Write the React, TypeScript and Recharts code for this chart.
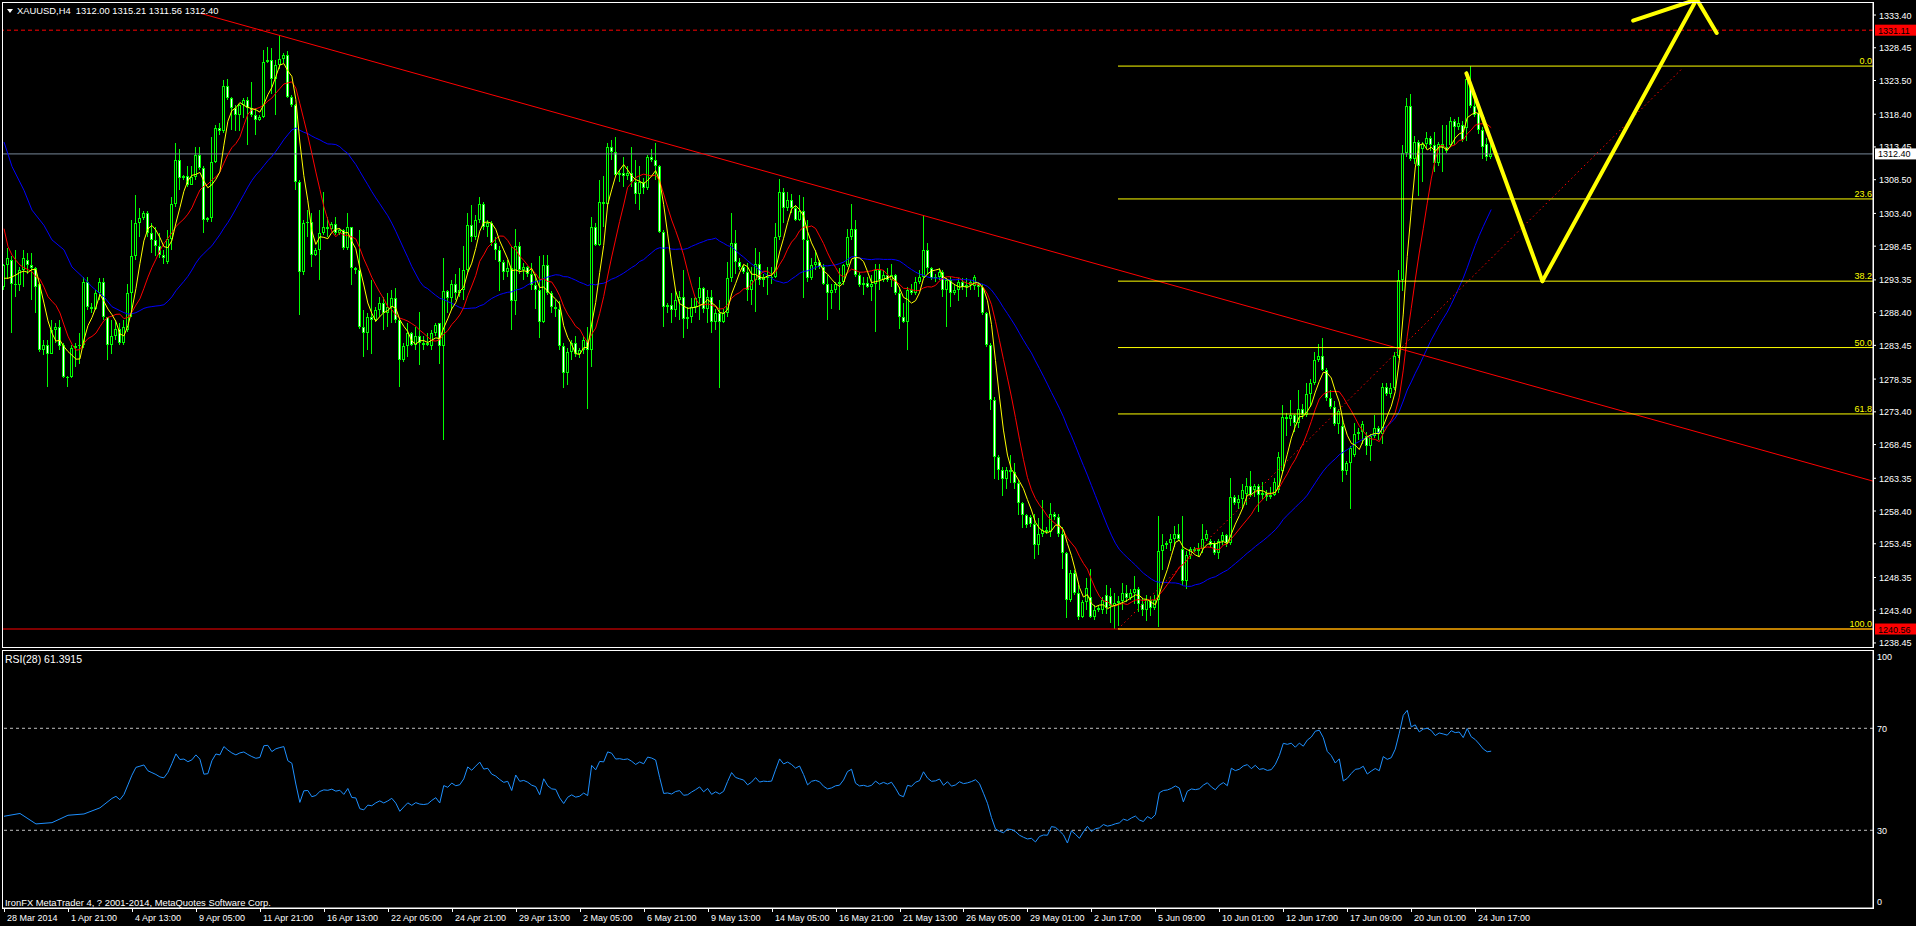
import React from 'react';
import { ComposedChart, Bar, Line, XAxis, YAxis, ReferenceLine } from 'recharts';

const FONT = "'Liberation Sans', Arial, sans-serif";

const symbolTitle = 'XAUUSD,H4  1312.00 1315.21 1311.56 1312.40';
const rsiTitle = 'RSI(28) 61.3915';
const copyrightText = 'IronFX MetaTrader 4, ? 2001-2014, MetaQuotes Software Corp.';

const opens = [
  1292.3, 1295.6, 1296.4, 1292.8, 1292.6, 1294.8, 1296.4, 1295.6, 1295.1, 1292.8,
  1282.7, 1283.5, 1282.2, 1285.8, 1286.3, 1283.5, 1278.7, 1278.7, 1283.0, 1283.3,
  1283.5, 1293.1, 1289.3, 1289.0, 1291.3, 1293.1, 1287.8, 1283.5, 1284.8, 1286.0,
  1283.8, 1285.8, 1291.3, 1296.9, 1301.9, 1302.7, 1303.5, 1300.4, 1299.4, 1298.4,
  1297.1, 1296.1, 1299.6, 1304.9, 1311.5, 1308.7, 1309.0, 1307.7, 1308.9, 1312.2,
  1310.2, 1302.4, 1302.7, 1311.2, 1316.3, 1315.8, 1322.6, 1320.8, 1319.3, 1318.3,
  1319.8, 1320.5, 1319.3, 1318.3, 1317.5, 1318.0, 1326.3, 1326.6, 1323.8, 1325.8,
  1326.7, 1327.4, 1321.0, 1319.8, 1308.2, 1294.6, 1301.9, 1302.1, 1297.1, 1297.9,
  1300.4, 1301.4, 1301.1, 1301.8, 1300.4, 1300.9, 1298.1, 1301.4, 1295.1, 1294.8,
  1286.3, 1285.3, 1287.8, 1287.3, 1288.8, 1289.8, 1288.3, 1289.3, 1290.6, 1287.3,
  1281.2, 1283.3, 1285.3, 1283.5, 1284.8, 1283.8, 1283.5, 1283.3, 1285.3, 1286.8,
  1283.3, 1291.6, 1290.6, 1292.8, 1291.3, 1291.8, 1294.8, 1301.6, 1299.9, 1302.4,
  1304.9, 1301.4, 1301.9, 1298.9, 1297.9, 1296.1, 1294.6, 1295.1, 1290.1, 1298.4,
  1294.8, 1295.3, 1294.3, 1292.6, 1291.8, 1287.0, 1295.6, 1291.3, 1289.3, 1289.0,
  1283.3, 1279.2, 1282.5, 1283.8, 1282.2, 1282.7, 1284.3, 1282.7, 1301.4, 1298.6,
  1305.2, 1304.9, 1313.5, 1312.7, 1309.2, 1309.5, 1309.0, 1309.5, 1308.2, 1306.4,
  1308.2, 1307.2, 1312.0, 1311.5, 1310.5, 1300.6, 1289.3, 1289.6, 1288.8, 1290.3,
  1290.8, 1287.5, 1287.8, 1289.3, 1290.6, 1292.1, 1289.0, 1290.8, 1287.0, 1288.3,
  1287.0, 1288.3, 1293.6, 1298.9, 1296.1, 1295.3, 1294.6, 1291.8, 1293.3, 1295.8,
  1293.3, 1293.8, 1293.6, 1293.8, 1299.9, 1306.7, 1304.2, 1305.4, 1304.2, 1302.4,
  1303.7, 1299.4, 1293.6, 1295.6, 1296.1, 1295.3, 1292.8, 1291.3, 1291.8, 1292.8,
  1293.1, 1295.6, 1299.9, 1301.1, 1294.1, 1292.6, 1292.9, 1292.3, 1292.8, 1294.8,
  1293.3, 1294.1, 1293.3, 1294.1, 1291.3, 1287.8, 1287.0, 1291.8, 1291.3, 1293.1,
  1293.8, 1297.9, 1295.1, 1293.6, 1293.8, 1294.6, 1291.8, 1293.3, 1291.3, 1291.8,
  1293.1, 1292.3, 1292.6, 1292.4, 1292.8, 1292.3, 1288.3, 1283.5, 1275.2, 1266.6,
  1264.6, 1263.3, 1264.6, 1264.3, 1262.6, 1259.6, 1257.8, 1257.5, 1256.5, 1253.3,
  1255.0, 1255.5, 1255.3, 1258.0, 1257.5, 1255.0, 1252.0, 1244.9, 1249.0, 1246.0,
  1242.4, 1244.7, 1245.4, 1242.4, 1243.4, 1243.4, 1245.7, 1245.5, 1244.0, 1244.5,
  1244.8, 1246.0, 1245.2, 1246.0, 1246.6, 1244.3, 1243.4, 1244.9, 1243.7, 1244.9,
  1252.4, 1253.3, 1253.5, 1254.1, 1255.0, 1252.7, 1247.8, 1251.8, 1252.7, 1252.4,
  1252.7, 1254.1, 1253.8, 1253.5, 1252.1, 1253.8, 1254.7, 1253.5, 1260.5, 1259.6,
  1260.2, 1261.0, 1262.2, 1261.6, 1262.2, 1260.8, 1261.1, 1260.5, 1260.8, 1261.6,
  1264.5, 1272.6, 1272.3, 1272.9, 1271.7, 1273.8, 1272.9, 1276.1, 1277.8, 1281.3,
  1281.9, 1279.8, 1275.5, 1274.1, 1271.5, 1271.2, 1264.5, 1265.7, 1266.8, 1270.0,
  1270.3, 1269.7, 1268.3, 1269.7, 1270.9, 1270.0, 1277.2, 1276.1, 1277.0, 1281.9,
  1293.4, 1312.5, 1319.7, 1311.6, 1314.2, 1313.1, 1313.9, 1314.8, 1313.7, 1311.1,
  1313.9, 1313.4, 1313.7, 1317.4, 1316.5, 1316.8, 1316.3, 1322.9, 1319.7, 1318.6,
  1316.0, 1313.9, 1312.00,
];

const highs = [
  1295.8, 1298.1, 1296.9, 1297.9, 1295.3, 1297.9, 1297.4, 1297.4, 1295.3, 1292.9,
  1284.3, 1284.3, 1287.3, 1286.8, 1287.3, 1283.8, 1278.8, 1283.5, 1283.8, 1285.3,
  1293.8, 1293.8, 1289.8, 1291.8, 1293.6, 1293.6, 1287.8, 1287.3, 1287.3, 1286.8,
  1287.3, 1292.8, 1302.4, 1306.2, 1304.2, 1303.7, 1303.7, 1301.9, 1301.4, 1300.4,
  1297.9, 1300.9, 1305.9, 1314.0, 1313.2, 1309.2, 1310.5, 1310.5, 1313.5, 1313.5,
  1310.5, 1302.9, 1315.0, 1316.8, 1317.0, 1323.6, 1323.8, 1321.0, 1319.8, 1320.0,
  1320.8, 1321.0, 1323.3, 1319.3, 1318.3, 1328.1, 1328.6, 1328.4, 1326.6, 1330.4,
  1327.6, 1327.9, 1321.3, 1320.0, 1308.4, 1302.4, 1303.9, 1303.4, 1298.1, 1303.9,
  1306.7, 1302.9, 1302.1, 1302.9, 1301.1, 1301.1, 1303.4, 1301.4, 1295.3, 1300.9,
  1288.8, 1288.3, 1293.3, 1289.3, 1290.8, 1290.8, 1291.3, 1291.8, 1292.1, 1287.5,
  1283.8, 1286.8, 1285.5, 1286.3, 1288.5, 1284.8, 1285.3, 1285.8, 1286.8, 1286.9,
  1296.6, 1291.8, 1293.3, 1294.3, 1295.1, 1298.4, 1303.4, 1304.7, 1303.2, 1305.9,
  1305.2, 1302.4, 1302.2, 1299.9, 1298.4, 1296.4, 1296.4, 1298.4, 1301.1, 1299.1,
  1295.9, 1295.5, 1295.9, 1294.3, 1296.9, 1297.1, 1297.1, 1291.6, 1290.3, 1290.1,
  1283.8, 1283.0, 1284.3, 1284.8, 1283.0, 1284.8, 1286.3, 1302.9, 1301.9, 1308.5,
  1309.0, 1314.0, 1314.5, 1315.0, 1310.0, 1312.0, 1310.5, 1313.5, 1311.5, 1310.5,
  1308.7, 1312.2, 1313.2, 1314.0, 1310.7, 1300.9, 1289.8, 1291.3, 1291.8, 1291.6,
  1294.8, 1289.3, 1290.6, 1290.8, 1293.8, 1292.3, 1291.8, 1291.8, 1289.0, 1290.3,
  1289.0, 1296.1, 1303.4, 1300.9, 1296.6, 1295.6, 1295.9, 1295.3, 1298.1, 1297.6,
  1294.3, 1295.3, 1295.3, 1301.9, 1308.6, 1307.2, 1306.7, 1306.4, 1304.7, 1306.2,
  1305.9, 1302.4, 1296.6, 1297.9, 1296.3, 1295.8, 1294.1, 1292.8, 1293.1, 1295.1,
  1295.8, 1301.1, 1304.9, 1302.4, 1294.6, 1293.8, 1293.8, 1294.1, 1295.8, 1295.8,
  1294.8, 1295.1, 1295.8, 1294.3, 1292.3, 1289.8, 1292.3, 1292.8, 1293.8, 1294.8,
  1303.2, 1298.9, 1295.3, 1294.3, 1295.1, 1294.8, 1293.6, 1293.8, 1292.8, 1293.6,
  1293.6, 1293.6, 1293.3, 1294.1, 1293.1, 1292.8, 1288.5, 1283.8, 1275.7, 1266.9,
  1265.1, 1265.1, 1266.9, 1265.6, 1263.1, 1259.8, 1258.0, 1257.8, 1258.0, 1257.3,
  1260.1, 1256.0, 1259.6, 1258.3, 1258.0, 1256.0, 1252.2, 1249.5, 1249.5, 1247.2,
  1244.9, 1248.2, 1249.7, 1244.2, 1244.0, 1245.4, 1247.2, 1246.8, 1246.0, 1245.5,
  1247.5, 1247.2, 1246.6, 1248.6, 1246.9, 1245.2, 1245.7, 1245.5, 1245.7, 1257.6,
  1255.0, 1253.8, 1255.0, 1256.1, 1256.4, 1257.6, 1252.4, 1253.0, 1252.9, 1253.5,
  1256.4, 1255.6, 1254.1, 1253.8, 1254.1, 1255.3, 1255.0, 1263.4, 1260.8, 1260.8,
  1262.5, 1263.4, 1264.5, 1262.5, 1262.5, 1262.8, 1261.6, 1262.0, 1263.4, 1267.4,
  1274.4, 1273.2, 1275.2, 1273.0, 1276.7, 1274.6, 1277.8, 1278.4, 1282.4, 1283.6,
  1284.5, 1280.0, 1276.7, 1275.0, 1273.8, 1272.6, 1266.0, 1268.3, 1271.7, 1270.9,
  1272.0, 1270.3, 1270.0, 1272.9, 1271.2, 1277.8, 1277.8, 1277.8, 1282.4, 1294.9,
  1313.7, 1320.9, 1321.5, 1315.1, 1314.5, 1314.2, 1315.7, 1315.1, 1315.7, 1314.2,
  1316.8, 1316.8, 1318.0, 1317.7, 1318.0, 1317.4, 1324.9, 1325.68, 1320.6, 1319.7,
  1316.5, 1314.8, 1315.21,
];

const lows = [
  1291.8, 1293.5, 1285.3, 1290.8, 1291.6, 1292.3, 1294.3, 1290.3, 1288.3, 1282.5,
  1282.0, 1277.2, 1282.2, 1283.8, 1282.7, 1278.5, 1277.2, 1278.5, 1280.2, 1280.7,
  1283.0, 1288.8, 1288.3, 1288.8, 1290.3, 1287.3, 1281.2, 1282.2, 1284.3, 1283.5,
  1283.5, 1285.5, 1287.8, 1296.4, 1299.9, 1302.4, 1299.9, 1297.4, 1296.9, 1296.6,
  1295.8, 1295.8, 1297.9, 1304.4, 1306.9, 1308.4, 1307.4, 1307.7, 1308.4, 1310.0,
  1300.4, 1302.1, 1302.1, 1311.0, 1315.3, 1315.5, 1320.5, 1316.0, 1315.8, 1315.8,
  1317.8, 1313.7, 1318.0, 1315.3, 1317.4, 1317.8, 1326.1, 1321.5, 1318.3, 1325.3,
  1326.1, 1320.8, 1319.5, 1306.9, 1288.0, 1294.1, 1299.9, 1295.3, 1296.9, 1293.3,
  1300.1, 1299.9, 1300.9, 1300.1, 1300.1, 1297.9, 1297.9, 1292.6, 1294.3, 1286.0,
  1281.7, 1282.7, 1282.2, 1287.0, 1287.8, 1285.8, 1286.3, 1286.8, 1286.8, 1277.2,
  1281.0, 1281.7, 1283.3, 1282.7, 1280.5, 1282.7, 1283.3, 1282.7, 1284.8, 1280.7,
  1269.1, 1288.3, 1288.8, 1290.3, 1290.8, 1290.3, 1294.3, 1299.1, 1299.4, 1301.9,
  1300.9, 1299.9, 1298.4, 1296.4, 1291.6, 1293.3, 1293.8, 1285.8, 1288.0, 1294.3,
  1293.3, 1293.8, 1291.8, 1289.0, 1284.5, 1286.8, 1291.1, 1288.3, 1287.8, 1282.7,
  1277.0, 1277.5, 1281.2, 1281.7, 1281.5, 1282.2, 1273.9, 1280.2, 1298.4, 1298.4,
  1301.4, 1304.7, 1311.5, 1309.0, 1308.2, 1307.4, 1308.5, 1307.4, 1304.9, 1303.9,
  1306.4, 1306.9, 1311.2, 1308.5, 1300.4, 1286.3, 1288.3, 1286.8, 1287.8, 1287.3,
  1284.5, 1286.0, 1286.8, 1288.3, 1287.3, 1288.3, 1286.8, 1285.3, 1285.8, 1277.0,
  1286.8, 1287.8, 1293.1, 1294.3, 1294.8, 1294.3, 1290.1, 1289.5, 1288.5, 1292.6,
  1292.3, 1291.1, 1292.8, 1293.6, 1299.4, 1301.9, 1303.7, 1303.4, 1302.2, 1302.2,
  1290.6, 1293.1, 1293.3, 1294.8, 1295.0, 1292.6, 1287.3, 1289.0, 1291.3, 1288.8,
  1292.6, 1295.3, 1299.4, 1293.8, 1292.3, 1291.1, 1292.1, 1290.1, 1285.5, 1291.8,
  1293.1, 1293.1, 1292.3, 1291.1, 1286.0, 1286.8, 1282.7, 1291.1, 1291.1, 1292.8,
  1293.6, 1294.3, 1293.3, 1293.1, 1293.3, 1290.8, 1286.3, 1289.3, 1291.1, 1290.1,
  1291.8, 1290.8, 1291.8, 1291.8, 1290.8, 1288.0, 1283.2, 1273.7, 1263.3, 1263.1,
  1260.6, 1261.8, 1262.6, 1261.8, 1257.8, 1255.8, 1255.8, 1256.0, 1251.2, 1251.7,
  1254.5, 1255.0, 1254.5, 1257.0, 1254.5, 1249.7, 1242.2, 1244.7, 1245.7, 1241.9,
  1242.2, 1243.4, 1242.2, 1241.9, 1243.2, 1242.9, 1242.9, 1241.5, 1240.56, 1241.0,
  1243.4, 1244.6, 1244.9, 1244.3, 1243.1, 1242.6, 1241.7, 1242.6, 1243.4, 1240.8,
  1249.5, 1252.7, 1252.4, 1253.0, 1253.8, 1247.2, 1246.6, 1251.2, 1252.2, 1251.5,
  1252.1, 1253.8, 1253.0, 1251.8, 1251.2, 1253.3, 1253.0, 1253.3, 1259.3, 1258.7,
  1258.7, 1259.3, 1260.5, 1260.5, 1258.2, 1260.2, 1259.9, 1260.2, 1260.6, 1261.1,
  1264.2, 1269.7, 1271.2, 1270.3, 1270.9, 1272.3, 1272.6, 1274.1, 1277.5, 1281.0,
  1279.6, 1275.0, 1273.8, 1271.2, 1270.0, 1262.8, 1263.9, 1258.7, 1266.5, 1269.1,
  1268.6, 1266.8, 1266.0, 1269.4, 1269.1, 1268.6, 1275.8, 1275.5, 1276.7, 1281.6,
  1291.7, 1311.9, 1311.3, 1310.8, 1306.1, 1308.2, 1313.1, 1312.8, 1309.6, 1310.5,
  1309.6, 1312.5, 1313.4, 1313.7, 1316.0, 1314.2, 1314.4, 1319.4, 1318.0, 1315.4,
  1311.6, 1311.3, 1311.56,
];

const closes = [
  1295.6, 1296.6, 1292.8, 1292.6, 1294.8, 1296.6, 1295.6, 1295.1, 1292.3, 1282.7,
  1283.5, 1282.2, 1285.8, 1286.3, 1283.3, 1278.7, 1278.5, 1283.0, 1283.3, 1283.5,
  1293.1, 1289.3, 1289.0, 1291.3, 1293.1, 1287.8, 1283.5, 1284.8, 1286.0, 1283.8,
  1286.3, 1291.3, 1296.9, 1301.9, 1302.7, 1303.5, 1300.4, 1299.4, 1298.4, 1297.1,
  1296.6, 1299.6, 1304.9, 1311.5, 1308.7, 1309.0, 1307.7, 1308.9, 1312.2, 1310.2,
  1302.4, 1302.7, 1311.2, 1316.3, 1315.8, 1322.6, 1320.8, 1319.3, 1318.3, 1319.8,
  1320.5, 1319.3, 1318.3, 1317.5, 1318.0, 1326.3, 1326.6, 1323.8, 1325.8, 1326.7,
  1327.4, 1321.0, 1319.8, 1308.2, 1294.6, 1301.9, 1302.1, 1297.1, 1297.9, 1300.4,
  1301.4, 1301.1, 1301.8, 1300.4, 1300.9, 1298.1, 1301.4, 1295.1, 1294.8, 1286.3,
  1285.3, 1287.8, 1287.3, 1288.8, 1289.8, 1288.3, 1289.3, 1290.6, 1287.3, 1281.2,
  1283.3, 1285.3, 1283.5, 1284.8, 1283.8, 1283.5, 1283.8, 1285.3, 1286.5, 1283.3,
  1291.6, 1290.6, 1292.8, 1291.3, 1291.8, 1294.8, 1301.6, 1299.9, 1302.4, 1304.9,
  1301.4, 1301.9, 1298.9, 1297.9, 1296.1, 1294.6, 1295.1, 1290.1, 1298.4, 1294.8,
  1295.3, 1294.3, 1292.6, 1291.8, 1287.0, 1295.6, 1291.3, 1289.3, 1289.0, 1283.3,
  1279.2, 1282.5, 1283.8, 1282.2, 1282.7, 1284.3, 1282.7, 1301.4, 1298.6, 1305.2,
  1304.9, 1313.5, 1312.7, 1309.2, 1309.5, 1309.0, 1309.5, 1308.2, 1306.4, 1308.2,
  1307.2, 1312.0, 1311.5, 1310.5, 1300.6, 1289.3, 1289.6, 1288.8, 1290.3, 1290.8,
  1287.5, 1287.8, 1289.3, 1290.6, 1292.1, 1289.0, 1290.8, 1287.0, 1288.3, 1287.0,
  1288.3, 1293.6, 1298.9, 1296.1, 1295.3, 1294.6, 1291.8, 1293.3, 1295.8, 1293.3,
  1293.8, 1293.6, 1293.8, 1299.9, 1306.7, 1304.2, 1305.4, 1304.2, 1302.4, 1303.7,
  1299.4, 1293.6, 1295.6, 1296.1, 1295.3, 1292.8, 1291.3, 1291.8, 1292.8, 1293.1,
  1295.6, 1299.9, 1301.1, 1294.1, 1292.6, 1292.9, 1292.3, 1292.8, 1294.8, 1293.3,
  1294.1, 1293.3, 1294.1, 1291.3, 1287.8, 1287.0, 1291.8, 1291.3, 1293.1, 1293.8,
  1297.9, 1295.1, 1293.6, 1293.8, 1294.6, 1291.8, 1293.3, 1291.3, 1291.8, 1293.1,
  1292.3, 1292.6, 1293.1, 1293.8, 1292.3, 1288.3, 1283.5, 1275.2, 1266.6, 1264.6,
  1263.3, 1264.6, 1264.3, 1262.6, 1259.6, 1257.8, 1256.3, 1256.5, 1253.3, 1255.0,
  1255.5, 1255.3, 1258.0, 1257.5, 1255.0, 1252.0, 1244.9, 1249.0, 1246.0, 1242.4,
  1244.7, 1246.7, 1242.4, 1243.4, 1243.7, 1244.9, 1243.7, 1244.0, 1244.5, 1244.8,
  1246.0, 1245.2, 1246.0, 1246.6, 1244.3, 1243.4, 1244.9, 1243.7, 1244.9, 1252.4,
  1253.3, 1253.5, 1254.1, 1255.0, 1254.1, 1247.8, 1251.8, 1252.7, 1252.4, 1252.7,
  1254.1, 1255.0, 1253.3, 1252.1, 1253.8, 1254.7, 1253.5, 1260.5, 1259.6, 1260.2,
  1261.6, 1262.2, 1260.8, 1262.2, 1260.8, 1261.1, 1260.5, 1260.8, 1262.8, 1266.5,
  1272.6, 1272.3, 1272.9, 1271.7, 1273.8, 1272.9, 1276.1, 1277.8, 1281.3, 1281.9,
  1279.8, 1275.5, 1274.1, 1271.5, 1273.5, 1264.5, 1265.7, 1268.0, 1270.0, 1270.3,
  1271.5, 1268.3, 1269.7, 1270.9, 1270.0, 1277.2, 1276.1, 1277.0, 1281.9, 1293.4,
  1312.5, 1319.7, 1311.6, 1314.2, 1310.5, 1313.9, 1314.8, 1313.7, 1311.1, 1313.9,
  1313.4, 1312.8, 1317.4, 1316.5, 1317.1, 1314.5, 1323.8, 1319.7, 1318.3, 1316.0,
  1313.4, 1311.9, 1312.40,
];

// moving-average / RSI values for the first bars (before enough history exists)
const fastLead = [1293.6, 1293.6, 1293.8, 1294.1];
const midLead = [1301.1, 1298.4, 1297.1, 1296.3, 1295.6, 1295.2, 1294.9, 1294.6, 1293.8];
const slowLeadBars = [0, 2, 5, 7, 10, 12, 15, 17, 20, 22, 25, 27, 30];
const slowLeadValues = [1314.2, 1310.5, 1306.9, 1303.9, 1301.6, 1299.4, 1297.9, 1295.3, 1293.6, 1292.3, 1290.8, 1289.3, 1288.4];
const rsiLeadBars = [0, 4, 8, 12, 16, 20, 24, 27];
const rsiLeadValues = [35.5, 36.6, 32.5, 33.0, 35.9, 36.4, 38.8, 42.5];

const maPeriods = [5, 10, 32];
const rsiPeriod = 28;

const timeLabels = [
  '28 Mar 2014', '1 Apr 21:00', '4 Apr 13:00', '9 Apr 05:00', '11 Apr 21:00', '16 Apr 13:00',
  '22 Apr 05:00', '24 Apr 21:00', '29 Apr 13:00', '2 May 05:00', '6 May 21:00', '9 May 13:00',
  '14 May 05:00', '16 May 21:00', '21 May 13:00', '26 May 05:00', '29 May 01:00', '2 Jun 17:00',
  '5 Jun 09:00', '10 Jun 01:00', '12 Jun 17:00', '17 Jun 09:00', '20 Jun 01:00', '24 Jun 17:00',
];
const labelEvery = 16;

const priceTicks = [
  1333.40, 1328.45, 1323.50, 1318.40, 1313.45, 1308.50, 1303.40, 1298.45, 1293.35, 1288.40,
  1283.45, 1278.35, 1273.40, 1268.45, 1263.35, 1258.40, 1253.45, 1248.35, 1243.40, 1238.45,
];
const priceDomain = [1237.84, 1335.37];
const rsiTicks = [0, 30, 70, 100];
const rsiLevels = [70, 30];
const rsiDomain = [-0.47, 100.7];

const fibLabels = ['0.0', '23.6', '38.2', '50.0', '61.8', '100.0'];
const fibValues = [1325.68, 1305.59, 1293.16, 1283.12, 1273.08, 1240.56];
const fibStartBar = 278.65;

const resistanceLevel = 1331.11;
const bidLevel = 1312.40;
const supportLevel = 1240.56;

const trendBars = [49.15, 467.5];
const trendPrices = [1333.66, 1262.92];
const dottedBars = [278.65, 419.65];
const dottedPrices = [1240.56, 1325.24];
const projBars = [365.8, 384.8, 423.4];
const projPrices = [1324.58, 1293.16, 1335.8];
const arrowLeftBars = [407.5, 422.6];
const arrowLeftPrices = [1332.54, 1335.6];
const arrowRightBars = [423.4, 428.4];
const arrowRightPrices = [1335.8, 1330.68];

const SLOTS = 468;
const X_DOMAIN = [-0.5, SLOTS - 0.5];

const N = Math.min(opens.length, highs.length, lows.length, closes.length);

function sma(period: number, i: number): number | null {
  if (i < period - 1 || i >= N) return null;
  let s = 0;
  for (let k = i - period + 1; k <= i; k++) s += closes[k];
  return s / period;
}

function rsiSeries(): (number | null)[] {
  const out: (number | null)[] = new Array(N).fill(null);
  const n = rsiPeriod;
  let g = 0;
  let l = 0;
  for (let k = 1; k <= n; k++) {
    const d = closes[k] - closes[k - 1];
    if (d > 0) g += d; else l -= d;
  }
  g /= n;
  l /= n;
  out[n] = l === 0 ? 100 : 100 - 100 / (1 + g / l);
  for (let k = n + 1; k < N; k++) {
    const d = closes[k] - closes[k - 1];
    g = (g * (n - 1) + Math.max(d, 0)) / n;
    l = (l * (n - 1) + Math.max(-d, 0)) / n;
    out[k] = l === 0 ? 100 : 100 - 100 / (1 + g / l);
  }
  return out;
}

const rsiComputed = rsiSeries();

const rows = Array.from({ length: SLOTS }, (_, i) => {
  const has = i < N;
  let fast: number | null = null;
  let mid: number | null = null;
  let slow: number | null = null;
  let rsi: number | null = null;
  if (has) {
    fast = i < maPeriods[0] - 1 ? fastLead[i] : sma(maPeriods[0], i);
    mid = i < maPeriods[1] - 1 ? midLead[i] : sma(maPeriods[1], i);
    if (i < maPeriods[2] - 1) {
      const li = slowLeadBars.indexOf(i);
      slow = li >= 0 ? slowLeadValues[li] : null;
    } else slow = sma(maPeriods[2], i);
    if (i < rsiPeriod) {
      const ri = rsiLeadBars.indexOf(i);
      rsi = ri >= 0 ? rsiLeadValues[ri] : null;
    } else rsi = rsiComputed[i];
  }
  return {
    i,
    range: has ? [lows[i], highs[i]] : null,
    o: has ? opens[i] : null,
    h: has ? highs[i] : null,
    l: has ? lows[i] : null,
    c: has ? closes[i] : null,
    fast,
    mid,
    slow,
    rsi,
  };
});

const Candle = (props: any) => {
  const { x, y, width, height, payload } = props;
  if (!payload || payload.o == null || x == null || y == null) return null;
  const top = Math.min(y, y + height);
  const hgt = Math.abs(height);
  const hi = payload.h;
  const lo = payload.l;
  const span = hi - lo;
  const py = (v: number) => (span > 0 ? top + ((hi - v) / span) * hgt : top);
  const left = Math.round(x);
  const w = Math.max(1, Math.round(width));
  const cx = left + Math.floor(w / 2);
  const wt = Math.round(top);
  const wb = Math.max(Math.round(top + hgt), wt + 1);
  const bt = Math.round(py(Math.max(payload.o, payload.c)));
  const bb = Math.max(Math.round(py(Math.min(payload.o, payload.c))), bt + 1);
  const bull = payload.c >= payload.o;
  return (
    <g shapeRendering="crispEdges">
      <rect x={cx} y={wt} width={1} height={wb - wt} fill="#00ff00" />
      <rect x={left} y={bt} width={w} height={bb - bt} fill="#00ff00" />
      {bb - bt > 2 && w > 2 ? (
        <rect x={left + 1} y={bt + 1} width={w - 2} height={bb - bt - 2} fill={bull ? '#000000' : '#ffffff'} />
      ) : null}
    </g>
  );
};

const PriceTick = (props: any) => {
  const { x, y, payload } = props;
  return (
    <text x={x} y={y + 3.5} fill="#ffffff" fontSize={9} fontFamily={FONT} textAnchor="start">
      {Number(payload.value).toFixed(2)}
    </text>
  );
};

const RsiTick = (props: any) => {
  const { x, y, payload } = props;
  const v = payload.value;
  const dy = v === 100 ? 5 : v === 0 ? -5 : 0;
  return (
    <text x={x} y={y + dy + 3.5} fill="#ffffff" fontSize={9} fontFamily={FONT} textAnchor="start">
      {v}
    </text>
  );
};

const TimeTick = (props: any) => {
  const { x, y, payload } = props;
  const idx = Math.round(payload.value / labelEvery);
  const xx = Math.round(x) + 0.5;
  return (
    <g>
      <line x1={xx} x2={xx} y1={y} y2={y + 4} stroke="#ffffff" strokeWidth={1} />
      <text x={xx + 2.5} y={y + 12.5} fill="#ffffff" fontSize={9} fontFamily={FONT} textAnchor="start">
        {timeLabels[idx]}
      </text>
    </g>
  );
};

const makeTag = (bg: string, fg: string, value: number) => (props: any) => {
  const vb = props.viewBox || {};
  const x = (vb.x || 0) + (vb.width || 0) + 2;
  const y = vb.y || 0;
  return (
    <g>
      <rect x={x} y={y - 5.5} width={41} height={11} fill={bg} />
      <text x={x + 3} y={y + 3.5} fill={fg} fontSize={9} fontFamily={FONT}>
        {value.toFixed(2)}
      </text>
    </g>
  );
};

const makeFibLabel = (text: string) => (props: any) => {
  const vb = props.viewBox || {};
  const x = (vb.x || 0) + (vb.width || 0) - 1;
  const y = vb.y || 0;
  return (
    <text x={x} y={y - 2} fill="#ffff00" fontSize={9} fontFamily={FONT} textAnchor="end">
      {text}
    </text>
  );
};

const timeTickIdx = timeLabels.map((_, k) => k * labelEvery);

export default function App() {
  return (
    <div style={{ position: 'absolute', left: 0, top: 0, width: 1916, height: 926, background: '#000', overflow: 'hidden', fontFamily: FONT }}>
      <div style={{ position: 'absolute', left: 0, top: 0 }}>
        <ComposedChart width={1916} height={650} data={rows} margin={{ top: 2, right: 0, bottom: 3, left: 2 }}>
          <XAxis xAxisId="cat" dataKey="i" type="category" hide />
          <XAxis xAxisId="n" dataKey="i" type="number" domain={X_DOMAIN} hide allowDataOverflow />
          <YAxis
            yAxisId="p"
            orientation="right"
            width={43}
            domain={priceDomain}
            ticks={priceTicks}
            allowDataOverflow
            interval={0}
            tick={<PriceTick />}
            tickSize={3}
            tickMargin={3}
            tickLine={{ stroke: '#ffffff' }}
            axisLine={{ stroke: '#ffffff' }}
          />
          <ReferenceLine xAxisId="n" yAxisId="p" y={resistanceLevel} stroke="#ff0000" strokeDasharray="4 3" ifOverflow="visible" label={makeTag('#ff0000', '#000000', resistanceLevel)} />
          <ReferenceLine xAxisId="n" yAxisId="p" y={bidLevel} stroke="#778899" ifOverflow="visible" label={makeTag('#ffffff', '#000000', bidLevel)} />
          <ReferenceLine xAxisId="n" yAxisId="p" y={supportLevel} stroke="#ff0000" ifOverflow="visible" label={makeTag('#ff0000', '#000000', supportLevel)} />
          <Bar xAxisId="cat" yAxisId="p" dataKey="range" barSize={3} shape={<Candle />} isAnimationActive={false} />
          <Line xAxisId="n" yAxisId="p" dataKey="slow" stroke="#0000ff" strokeWidth={1} dot={false} connectNulls isAnimationActive={false} />
          <Line xAxisId="n" yAxisId="p" dataKey="mid" stroke="#ff0000" strokeWidth={1} dot={false} connectNulls isAnimationActive={false} />
          <Line xAxisId="n" yAxisId="p" dataKey="fast" stroke="#ffff00" strokeWidth={1} dot={false} connectNulls isAnimationActive={false} />
          <ReferenceLine
            xAxisId="n"
            yAxisId="p"
            segment={[{ x: trendBars[0], y: trendPrices[0] }, { x: trendBars[1], y: trendPrices[1] }]}
            stroke="#ff0000"
            ifOverflow="visible"
          />
          <ReferenceLine
            xAxisId="n"
            yAxisId="p"
            segment={[{ x: dottedBars[0], y: dottedPrices[0] }, { x: dottedBars[1], y: dottedPrices[1] }]}
            stroke="#ff0000"
            strokeDasharray="1.5 3"
            ifOverflow="visible"
          />
          {fibValues.map((v, k) => (
            <ReferenceLine
              key={'fib' + k}
              xAxisId="n"
              yAxisId="p"
              segment={[{ x: fibStartBar, y: v }, { x: X_DOMAIN[1], y: v }]}
              stroke="#ffff00"
              ifOverflow="visible"
              label={makeFibLabel(fibLabels[k])}
            />
          ))}
          <ReferenceLine
            xAxisId="n"
            yAxisId="p"
            segment={[{ x: projBars[0], y: projPrices[0] }, { x: projBars[1], y: projPrices[1] }]}
            stroke="#ffff00"
            strokeWidth={4}
            strokeLinecap="round"
            ifOverflow="visible"
          />
          <ReferenceLine
            xAxisId="n"
            yAxisId="p"
            segment={[{ x: projBars[1], y: projPrices[1] }, { x: projBars[2], y: projPrices[2] }]}
            stroke="#ffff00"
            strokeWidth={4}
            strokeLinecap="round"
            ifOverflow="visible"
          />
          <ReferenceLine
            xAxisId="n"
            yAxisId="p"
            segment={[{ x: arrowLeftBars[0], y: arrowLeftPrices[0] }, { x: arrowLeftBars[1], y: arrowLeftPrices[1] }]}
            stroke="#ffff00"
            strokeWidth={4}
            strokeLinecap="round"
            ifOverflow="visible"
          />
          <ReferenceLine
            xAxisId="n"
            yAxisId="p"
            segment={[{ x: arrowRightBars[0], y: arrowRightPrices[0] }, { x: arrowRightBars[1], y: arrowRightPrices[1] }]}
            stroke="#ffff00"
            strokeWidth={4}
            strokeLinecap="round"
            ifOverflow="visible"
          />
        </ComposedChart>
      </div>
      <div style={{ position: 'absolute', left: 0, top: 650 }}>
        <ComposedChart width={1916} height={276} data={rows} margin={{ top: 0, right: 0, bottom: 0, left: 2 }}>
          <XAxis
            xAxisId="n"
            dataKey="i"
            type="number"
            domain={X_DOMAIN}
            allowDataOverflow
            ticks={timeTickIdx}
            interval={0}
            height={18}
            tick={<TimeTick />}
            tickLine={false}
            tickSize={0}
            tickMargin={0}
            axisLine={{ stroke: '#ffffff' }}
          />
          <YAxis
            yAxisId="r"
            orientation="right"
            width={43}
            domain={rsiDomain}
            ticks={rsiTicks}
            allowDataOverflow
            interval={0}
            tick={<RsiTick />}
            tickLine={false}
            tickSize={0}
            tickMargin={4}
            axisLine={{ stroke: '#ffffff' }}
          />
          {rsiLevels.map((v) => (
            <ReferenceLine key={'lvl' + v} xAxisId="n" yAxisId="r" y={v} stroke="#c0c0c0" strokeDasharray="3 3" />
          ))}
          <Line xAxisId="n" yAxisId="r" dataKey="rsi" stroke="#1e90ff" strokeWidth={1} dot={false} connectNulls isAnimationActive={false} />
        </ComposedChart>
      </div>
      <div style={{ position: 'absolute', left: 2, top: 2, width: 1872, height: 646, border: '1px solid #fff', boxSizing: 'border-box', pointerEvents: 'none' }} />
      <div style={{ position: 'absolute', left: 2, top: 650, width: 1872, height: 259, border: '1px solid #fff', boxSizing: 'border-box', pointerEvents: 'none' }} />
      <div style={{ position: 'absolute', left: 7, top: 9, width: 0, height: 0, borderLeft: '3px solid transparent', borderRight: '3px solid transparent', borderTop: '4px solid #fff' }} />
      <div style={{ position: 'absolute', left: 17, top: 4.5, color: '#fff', fontSize: 9.4, lineHeight: '12px', whiteSpace: 'pre' }}>{symbolTitle}</div>
      <div style={{ position: 'absolute', left: 5, top: 653, color: '#fff', fontSize: 10.5, lineHeight: '13px', whiteSpace: 'pre' }}>{rsiTitle}</div>
      <div style={{ position: 'absolute', left: 5, top: 896.5, color: '#fff', fontSize: 9.4, lineHeight: '12px', whiteSpace: 'pre' }}>{copyrightText}</div>
    </div>
  );
}
